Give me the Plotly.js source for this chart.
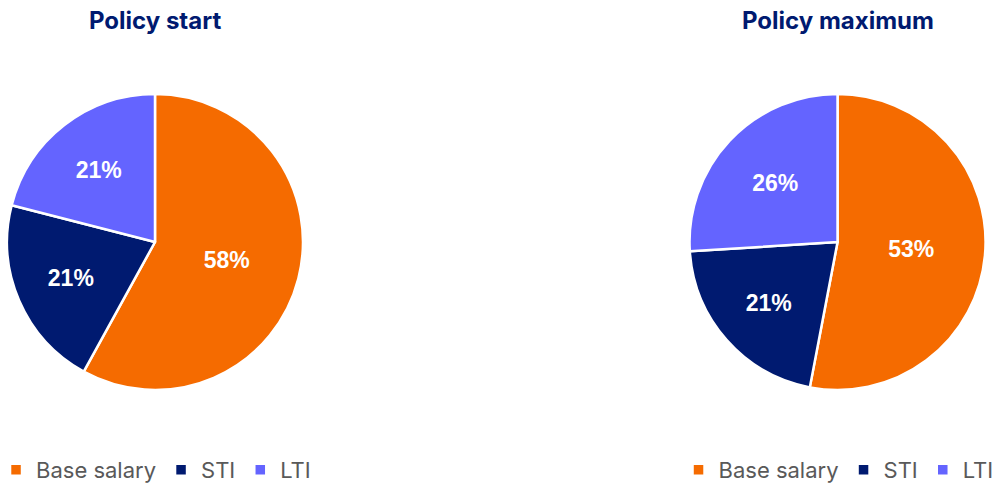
<!DOCTYPE html>
<html>
<head>
<meta charset="utf-8">
<script src="https://cdn.plot.ly/plotly-3.0.1.min.js"></script>
<style>
  html, body { margin: 0; padding: 0; background: #ffffff; }
  #chart { width: 992px; height: 486px; }
</style>
</head>
<body>
<div id="chart"></div>
<script>
const categories = ['Base salary', 'STI', 'LTI'];
const policyStartValues = [58, 21, 21];
const policyMaximumValues = [53, 21, 26];
const chartTitles = ['Policy start', 'Policy maximum'];
const sliceColors = ['#F56B00', '#001A70', '#6464FF'];

const FONT = 'Inter, "Open Sans", sans-serif';
const LABEL_FONT = '"Liberation Sans", Arial, sans-serif';

// Pie legends merge entries that share a label, so the second pie gets an
// invisible zero-width suffix to keep its own legend entries.
function pieTrace(values, labels, domainX, legendName) {
  return {
    type: 'pie',
    labels: labels,
    values: values,
    sort: false,
    direction: 'clockwise',
    rotation: 0,
    domain: { x: domainX, y: [0.1975, 0.8066] },
    marker: { colors: sliceColors, line: { color: '#ffffff', width: 2.5 } },
    texttemplate: '%{percent:.0%}',
    textposition: 'inside',
    insidetextorientation: 'horizontal',
    insidetextfont: { family: LABEL_FONT, size: 23, color: '#ffffff', weight: 700 },
    hoverinfo: 'label+percent',
    legend: legendName,
    showlegend: true
  };
}

const data = [
  pieTrace(policyStartValues, categories, [0.0071, 0.3054], 'legend'),
  pieTrace(policyMaximumValues, categories.map(c => c + '\u200b'), [0.6951, 0.9935], 'legend2')
];

const legendCommon = {
  orientation: 'h',
  yanchor: 'middle',
  y: 0.033,
  xanchor: 'left',
  font: { family: FONT, size: 22, color: '#595959' },
  bgcolor: 'rgba(0,0,0,0)',
  itemclick: false,
  itemdoubleclick: false
};

const layout = {
  width: 992,
  height: 486,
  margin: { l: 0, r: 0, t: 0, b: 0, autoexpand: false },
  paper_bgcolor: '#ffffff',
  plot_bgcolor: '#ffffff',
  font: { family: FONT },
  legend: Object.assign({}, legendCommon, { x: -0.004 }),
  legend2: Object.assign({}, legendCommon, { x: 0.684 }),
  annotations: [
    { text: chartTitles[0], x: 155 / 992, y: 1 - 20 / 486, xref: 'paper', yref: 'paper',
      xanchor: 'center', yanchor: 'middle', showarrow: false,
      font: { family: FONT, size: 24, color: '#001A70', weight: 700 } },
    { text: chartTitles[1], x: 838 / 992, y: 1 - 20 / 486, xref: 'paper', yref: 'paper',
      xanchor: 'center', yanchor: 'middle', showarrow: false,
      font: { family: FONT, size: 24, color: '#001A70', weight: 700 } }
  ]
};

Plotly.newPlot('chart', data, layout, { displayModeBar: false, staticPlot: true });
</script>
</body>
</html>
